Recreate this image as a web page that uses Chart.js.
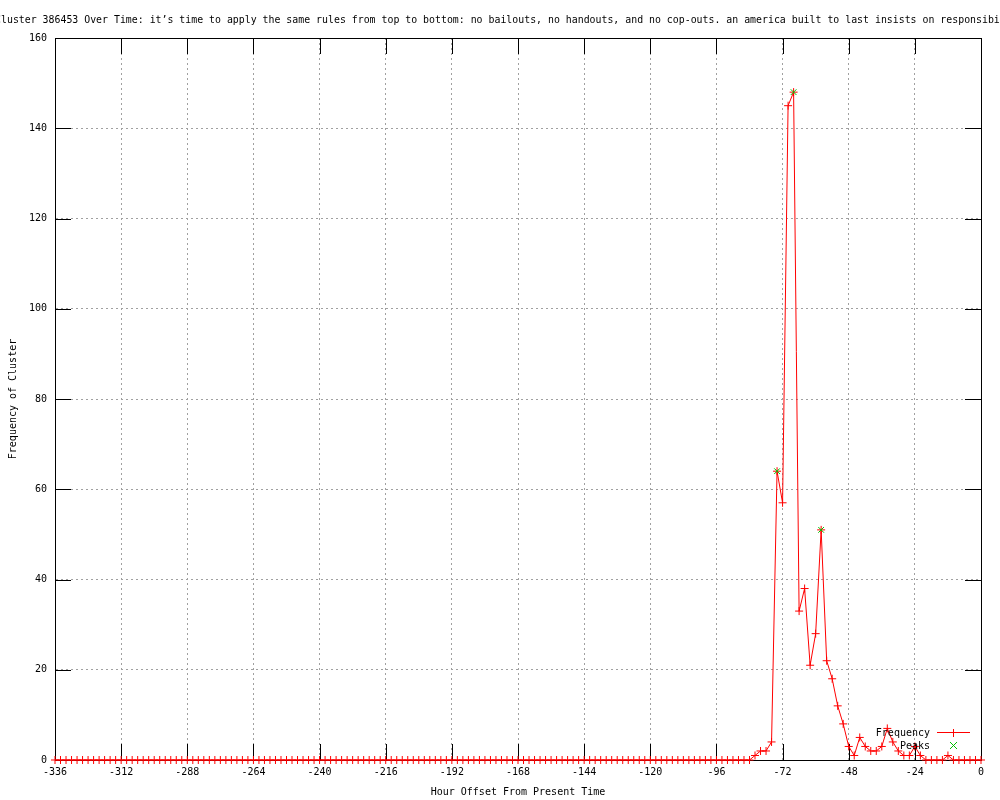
<!DOCTYPE html>
<html>
<head>
<meta charset="utf-8">
<title>Frequency of Cluster 386453 Over Time</title>
<script src="https://cdn.jsdelivr.net/npm/chart.js@4.4.1/dist/chart.umd.min.js"></script>
<style>
    html, body { margin: 0; padding: 0; background: #ffffff; }
    #chart-wrap { width: 1000px; height: 800px; }
</style>
</head>
<body>
<div id="chart-wrap"><canvas id="clusterChart" width="1000" height="800"></canvas></div>
<script>
const chartTitle = 'Frequency of Cluster 386453 Over Time: it\u2019s time to apply the same rules from top to bottom: no bailouts, no handouts, and no cop-outs. an america built to last insists on responsibility from everybody.';
const xAxisTitle = 'Hour Offset From Present Time';
const yAxisTitle = 'Frequency of Cluster';

// hour offsets, one point every 2 hours
const hours = [
    -336, -334, -332, -330, -328, -326, -324, -322, -320, -318, -316, -314,
    -312, -310, -308, -306, -304, -302, -300, -298, -296, -294, -292, -290,
    -288, -286, -284, -282, -280, -278, -276, -274, -272, -270, -268, -266,
    -264, -262, -260, -258, -256, -254, -252, -250, -248, -246, -244, -242,
    -240, -238, -236, -234, -232, -230, -228, -226, -224, -222, -220, -218,
    -216, -214, -212, -210, -208, -206, -204, -202, -200, -198, -196, -194,
    -192, -190, -188, -186, -184, -182, -180, -178, -176, -174, -172, -170,
    -168, -166, -164, -162, -160, -158, -156, -154, -152, -150, -148, -146,
    -144, -142, -140, -138, -136, -134, -132, -130, -128, -126, -124, -122,
    -120, -118, -116, -114, -112, -110, -108, -106, -104, -102, -100, -98,
    -96, -94, -92, -90, -88, -86, -84, -82, -80, -78, -76, -74,
    -72, -70, -68, -66, -64, -62, -60, -58, -56, -54, -52, -50,
    -48, -46, -44, -42, -40, -38, -36, -34, -32, -30, -28, -26,
    -24, -22, -20, -18, -16, -14, -12, -10, -8, -6, -4, -2,
    0
];

const frequency = [
    0, 0, 0, 0, 0, 0, 0, 0, 0, 0, 0, 0,
    0, 0, 0, 0, 0, 0, 0, 0, 0, 0, 0, 0,
    0, 0, 0, 0, 0, 0, 0, 0, 0, 0, 0, 0,
    0, 0, 0, 0, 0, 0, 0, 0, 0, 0, 0, 0,
    0, 0, 0, 0, 0, 0, 0, 0, 0, 0, 0, 0,
    0, 0, 0, 0, 0, 0, 0, 0, 0, 0, 0, 0,
    0, 0, 0, 0, 0, 0, 0, 0, 0, 0, 0, 0,
    0, 0, 0, 0, 0, 0, 0, 0, 0, 0, 0, 0,
    0, 0, 0, 0, 0, 0, 0, 0, 0, 0, 0, 0,
    0, 0, 0, 0, 0, 0, 0, 0, 0, 0, 0, 0,
    0, 0, 0, 0, 0, 0, 0, 1, 2, 2, 4, 64,
    57, 145, 148, 33, 38, 21, 28, 51, 22, 18, 12, 8,
    3, 1, 5, 3, 2, 2, 3, 7, 4, 2, 1, 1,
    3, 1, 0, 0, 0, 0, 1, 0, 0, 0, 0, 0,
    0
];

const peakHours = [-74, -68, -58];
const peakValues = [64, 148, 51];

const xTicks = [-336, -312, -288, -264, -240, -216, -192, -168, -144, -120, -96, -72, -48, -24, 0];
const yTicks = [0, 20, 40, 60, 80, 100, 120, 140, 160];

const monoFont = "'DejaVu Sans Mono', 'Liberation Mono', monospace";

// title, border box, inward tick marks and the gnuplot-style key
const gnuplotDecor = {
    id: 'gnuplotDecor',
    beforeDatasetsDraw(chart) {
        const ctx = chart.ctx;
        const area = chart.chartArea;
        const xs = chart.scales.x;
        const ys = chart.scales.y;
        ctx.save();
        ctx.setLineDash([]);
        ctx.strokeStyle = '#000000';
        ctx.lineWidth = 1;

        // inward ticks
        ctx.beginPath();
        xTicks.forEach(v => {
            const px = Math.round(xs.getPixelForValue(v)) + 0.5;
            ctx.moveTo(px, area.bottom);
            ctx.lineTo(px, area.bottom - 16);
            ctx.moveTo(px, area.top);
            ctx.lineTo(px, area.top + 16);
        });
        yTicks.forEach(v => {
            const py = Math.round(ys.getPixelForValue(v)) + 0.5;
            ctx.moveTo(area.left, py);
            ctx.lineTo(area.left + 16, py);
            ctx.moveTo(area.right, py);
            ctx.lineTo(area.right - 16, py);
        });
        ctx.stroke();

        // border
        ctx.strokeRect(Math.round(area.left) + 0.5, Math.round(area.top) + 0.5,
            Math.round(area.right - area.left), Math.round(area.bottom - area.top));
        ctx.restore();
    },
    afterDraw(chart) {
        const ctx = chart.ctx;
        ctx.save();
        ctx.setLineDash([]);
        ctx.lineWidth = 1;

        // title (wider than the canvas, clipped at both sides)
        ctx.font = '9.9px ' + monoFont;
        ctx.fillStyle = '#000000';
        ctx.textBaseline = 'middle';
        ctx.textAlign = 'left';
        const lead = ctx.measureText('Frequency of C').width;
        ctx.fillText(chartTitle, 1 - lead, 20);

        // key
        ctx.font = '10px ' + monoFont;
        ctx.textAlign = 'right';
        ctx.fillText('Frequency', 930, 733);
        ctx.fillText('Peaks', 930, 746);
        ctx.strokeStyle = '#ff0000';
        ctx.beginPath();
        ctx.moveTo(937, 732.5);
        ctx.lineTo(970, 732.5);
        ctx.moveTo(953.5, 729);
        ctx.lineTo(953.5, 737);
        ctx.stroke();
        ctx.strokeStyle = '#00c000';
        ctx.beginPath();
        ctx.moveTo(950, 742);
        ctx.lineTo(957, 749);
        ctx.moveTo(957, 742);
        ctx.lineTo(950, 749);
        ctx.stroke();

        ctx.restore();
    }
};

const ctx = document.getElementById('clusterChart').getContext('2d');
const chart = new Chart(ctx, {
    type: 'line',
    data: {
        datasets: [
            {
                label: 'Frequency',
                data: hours.map((h, i) => ({ x: h, y: frequency[i] })),
                borderColor: '#ff0000',
                backgroundColor: '#ff0000',
                borderWidth: 1,
                tension: 0,
                clip: false,
                pointStyle: 'cross',
                pointRadius: 4,
                pointBorderWidth: 1,
                order: 1
            },
            {
                label: 'Peaks',
                data: peakHours.map((h, i) => ({ x: h, y: peakValues[i] })),
                showLine: false,
                clip: false,
                borderColor: '#00c000',
                backgroundColor: '#00c000',
                pointStyle: 'crossRot',
                pointRadius: 4,
                pointBorderWidth: 1,
                order: 0
            }
        ]
    },
    options: {
        responsive: false,
        animation: false,
        devicePixelRatio: 1,
        layout: { padding: { top: 38, right: 19, bottom: 0, left: 0 } },
        plugins: {
            legend: { display: false },
            title: { display: false },
            tooltip: { enabled: false }
        },
        scales: {
            x: {
                type: 'linear',
                min: -336,
                max: 0,
                afterFit: scale => { scale.height = 40; },
                afterBuildTicks: scale => { scale.ticks = xTicks.map(v => ({ value: v })); },
                ticks: {
                    color: '#000000',
                    font: { family: monoFont, size: 10 },
                    padding: 6,
                    maxRotation: 0,
                    autoSkip: false,
                    callback: v => String(v)
                },
                grid: {
                    color: '#a0a0a0',
                    lineWidth: 1,
                    drawTicks: false
                },
                border: { display: true, color: '#000000', dash: [2, 3] },
                title: {
                    display: true,
                    text: xAxisTitle,
                    color: '#000000',
                    font: { family: monoFont, size: 10 },
                    padding: { top: 0, bottom: 2 }
                }
            },
            y: {
                type: 'linear',
                min: 0,
                max: 160,
                afterFit: scale => { scale.width = 55; },
                afterBuildTicks: scale => { scale.ticks = yTicks.map(v => ({ value: v })); },
                ticks: {
                    color: '#000000',
                    font: { family: monoFont, size: 10 },
                    padding: 8,
                    callback: v => String(v)
                },
                grid: {
                    color: '#a0a0a0',
                    lineWidth: 1,
                    drawTicks: false
                },
                border: { display: true, color: '#000000', dash: [2, 3] },
                title: {
                    display: true,
                    text: yAxisTitle,
                    color: '#000000',
                    font: { family: monoFont, size: 10 },
                    padding: { top: 7, bottom: 0 }
                }
            }
        }
    },
    plugins: [gnuplotDecor]
});
</script>
</body>
</html>
